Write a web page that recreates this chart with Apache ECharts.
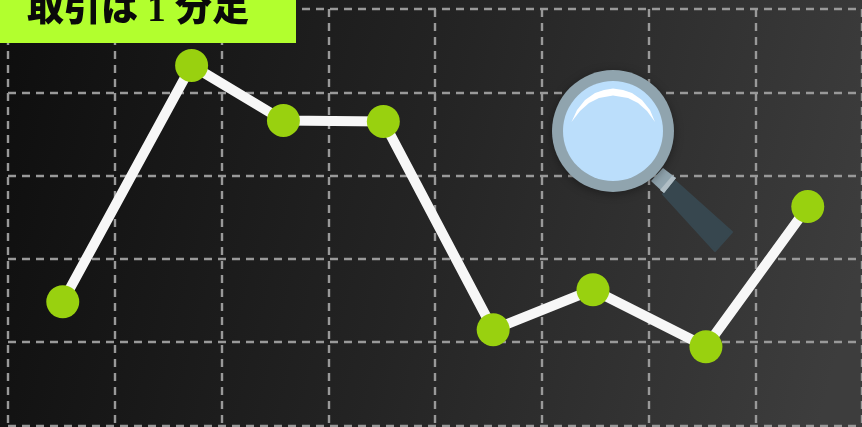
<!DOCTYPE html>
<html>
<head>
<meta charset="utf-8">
<style>
  html, body { margin: 0; padding: 0; background: #1f1f1f; }
  #chart { width: 862px; height: 427px; }
</style>
<script src="https://cdn.jsdelivr.net/npm/echarts@6/dist/echarts.min.js"></script>
</head>
<body>
<div id="chart"></div>
<script>
// x: position in grid columns, y: height in grid rows
const pointX = [0.513, 1.72, 2.58, 3.516, 4.545, 5.48, 6.538, 7.492];
const pointY = [1.486, 4.323, 3.662, 3.65, 1.15, 1.63, 0.945, 2.628];
const labelText = '取引は 1 分足';

const chart = echarts.init(document.getElementById('chart'));

// 折れ線用データ
const lineData = pointX.map((x, i) => [x, pointY[i]]);

// 虫眼鏡
const magnifier = [
  // 柄
  {
    type: 'polygon', z: 10,
    shape: { points: [[663, 194], [675, 181], [732, 232], [715, 251]] },
    style: { fill: '#37474f', stroke: '#37474f', lineWidth: 2, lineJoin: 'round' }
  },
  {
    type: 'polygon', z: 11,
    shape: { points: [[651, 181], [663, 168], [676, 178], [664, 193]] },
    style: { fill: '#90a4ae' }
  },
  {
    type: 'polygon', z: 12,
    shape: { points: [[660, 190], [672, 176], [676, 178], [664, 193]] },
    style: { fill: '#b0bec5' }
  },
  {
    type: 'circle', z: 13,
    shape: { cx: 613, cy: 131, r: 61 },
    style: { fill: '#90a4ae', shadowBlur: 10, shadowColor: 'rgba(0,0,0,0.35)', shadowOffsetY: 2 }
  },
  {
    type: 'circle', z: 14,
    shape: { cx: 613, cy: 131, r: 50 },
    style: { fill: '#bbdefb' }
  },
  // レンズのハイライト
  {
    type: 'polygon', z: 15,
    shape: {
      points: [[571.5, 122], [577, 110], [585, 100], [595, 93], [604, 90], [613, 88.5], [623, 90], [632, 93],
        [642, 100], [650, 110], [655, 122], [647, 111], [638, 103], [628, 98], [613, 95.5], [599, 98],
        [589, 103], [580, 111]]
    },
    style: { fill: '#ffffff' }
  }
];

// 左上のラベル
const label = [
  {
    type: 'rect', z: 20,
    shape: { x: 0, y: 0, width: 296, height: 43 },
    style: { fill: '#b2ff2e' }
  },
  {
    type: 'text', z: 21, x: 27, y: 11,
    style: {
      text: labelText,
      fill: '#0a0a0a',
      font: '900 37px "Liberation Serif", "Noto Sans CJK JP"',
      verticalAlign: 'middle'
    }
  }
];

chart.setOption({
  animation: false,
  backgroundColor: {
    type: 'linear', x: 0, y: 0.1, x2: 1, y2: 0.6,
    colorStops: [
      { offset: 0, color: '#0e0e0e' },
      { offset: 0.5, color: '#242424' },
      { offset: 1, color: '#3d3d3d' }
    ]
  },
  grid: { left: 8, top: 9, width: 855, height: 416.5 },
  xAxis: {
    type: 'value', min: 0, max: 8, interval: 1,
    axisLine: { show: false }, axisTick: { show: false }, axisLabel: { show: false },
    splitLine: { lineStyle: { color: '#999999', width: 2.4, type: [8, 6] } }
  },
  yAxis: {
    type: 'value', min: 0, max: 5, interval: 1,
    axisLine: { show: false }, axisTick: { show: false }, axisLabel: { show: false },
    splitLine: { lineStyle: { color: '#999999', width: 2.4, type: [8, 6] } }
  },
  series: [{
    type: 'line',
    data: lineData,
    symbol: 'circle',
    symbolSize: 33,
    showSymbol: true,
    lineStyle: { color: '#f7f7f7', width: 10 },
    itemStyle: { color: '#99d10f' },
    silent: true,
    clip: false
  }],
  graphic: { elements: magnifier.concat(label) }
});
</script>
</body>
</html>
